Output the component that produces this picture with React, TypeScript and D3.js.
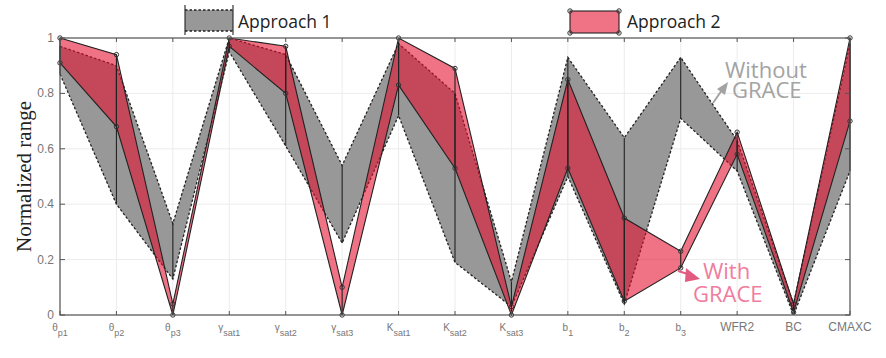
import React from "react";
import * as d3 from "d3";

const labelMain = ["θ", "θ", "θ", "γ", "γ", "γ", "K", "K", "K", "b", "b", "b", "WFR2", "BC", "CMAXC"];
const labelSub = ["p1", "p2", "p3", "sat1", "sat2", "sat3", "sat1", "sat2", "sat3", "1", "2", "3", "", "", ""];
const categories = labelMain.map((m, i) => m + labelSub[i]);

const approach1Min = [0.87, 0.40, 0.13, 0.95, 0.61, 0.26, 0.72, 0.19, 0.03, 0.50, 0.04, 0.71, 0.52, 0.00, 0.52];
const approach1Max = [0.97, 0.90, 0.33, 1.00, 0.94, 0.54, 0.98, 0.80, 0.12, 0.93, 0.64, 0.93, 0.63, 0.04, 0.98];
const approach2Min = [0.91, 0.68, 0.00, 0.97, 0.80, 0.00, 0.83, 0.53, 0.00, 0.53, 0.05, 0.17, 0.58, 0.01, 0.70];
const approach2Max = [1.00, 0.94, 0.04, 1.00, 0.97, 0.10, 1.00, 0.89, 0.03, 0.85, 0.35, 0.23, 0.66, 0.04, 1.00];

const yTicks = [0, 0.2, 0.4, 0.6, 0.8, 1];
const yTickLabels = ["0", "0.2", "0.4", "0.6", "0.8", "1"];
const legendLabels = ["Approach 1", "Approach 2"];

const W = 886, H = 358;
const L = 60, R = 850, T = 38, B = 315;

export default function App() {
  const x = d3.scalePoint<string>().domain(categories).range([L, R]);
  const y = d3.scaleLinear().domain([0, 1]).range([B, T]);

  const idx = categories.map((_, i) => i);
  const area = (lo: number[], hi: number[]) =>
    d3.area<number>().x((i) => x(categories[i])!).y0((i) => y(lo[i])).y1((i) => y(hi[i]))(idx) || "";
  const line = (v: number[]) =>
    d3.line<number>().x((i) => x(categories[i])!).y((i) => y(v[i]))(idx) || "";

  const grayFill = "#989898";
  const redFill = "rgba(230,12,45,0.58)";

  return (
    <svg width={W} height={H} style={{ position: "absolute", left: 0, top: 0, background: "#fff" }}>
      {/* grid */}
      {categories.map((c) => (
        <line key={"gv" + c} x1={x(c)} x2={x(c)} y1={T} y2={B} stroke="#ececec" strokeWidth={1} />
      ))}
      {yTicks.map((t) => (
        <line key={"gh" + t} x1={L} x2={R} y1={y(t)} y2={y(t)} stroke="#ececec" strokeWidth={1} />
      ))}

      {/* Approach 1 band */}
      <path d={area(approach1Min, approach1Max)} fill={grayFill} stroke="none" />
      <path d={line(approach1Max)} fill="none" stroke="#222" strokeWidth={1.3} strokeDasharray="2.5,2" />
      <path d={line(approach1Min)} fill="none" stroke="#222" strokeWidth={1.3} strokeDasharray="2.5,2" />

      {/* Approach 2 band */}
      <path d={area(approach2Min, approach2Max)} fill={redFill} stroke="none" />
      <path d={line(approach2Max)} fill="none" stroke="#222" strokeWidth={1.1} />
      <path d={line(approach2Min)} fill="none" stroke="#222" strokeWidth={1.1} />

      {/* vertical range lines */}
      {categories.map((c, i) => (
        <g key={"vr" + c}>
          <line x1={x(c)} x2={x(c)} y1={y(approach1Min[i])} y2={y(approach1Max[i])} stroke="#222" strokeWidth={1.1} />
          <line x1={x(c)} x2={x(c)} y1={y(approach2Min[i])} y2={y(approach2Max[i])} stroke="#222" strokeWidth={1.1} />
        </g>
      ))}
      {categories.map((c, i) => (
        <g key={"mk" + c}>
          <circle cx={x(c)} cy={y(approach2Max[i])} r={2.2} fill="none" stroke="#333" strokeWidth={1} />
          <circle cx={x(c)} cy={y(approach2Min[i])} r={2.2} fill="none" stroke="#333" strokeWidth={1} />
        </g>
      ))}

      {/* frame */}
      <rect x={L} y={T} width={R - L} height={B - T} fill="none" stroke="#555" strokeWidth={1.2} />
      {categories.map((c) => (
        <g key={"xt" + c}>
          <line x1={x(c)} x2={x(c)} y1={B} y2={B - 4} stroke="#555" />
          <line x1={x(c)} x2={x(c)} y1={T} y2={T + 4} stroke="#555" />
        </g>
      ))}
      {yTicks.map((t, i) => (
        <g key={"yt" + t}>
          <line x1={L} x2={L + 5} y1={y(t)} y2={y(t)} stroke="#555" />
          <line x1={R} x2={R - 5} y1={y(t)} y2={y(t)} stroke="#555" />
          <text x={L - 6} y={y(t) + 4} textAnchor="end" fontFamily="Liberation Sans, Arial" fontSize={12} fill="#777">
            {yTickLabels[i]}
          </text>
        </g>
      ))}

      {/* x labels */}
      {categories.map((c, i) => (
        <text key={"xl" + c} x={x(c)} y={331} textAnchor="middle" fontFamily="Liberation Sans, Arial" fontSize={labelSub[i] ? 10 : 12} fill="#777">
          <tspan>{labelMain[i]}</tspan>
          {labelSub[i] ? <tspan dy={5} fontSize={9}>{labelSub[i]}</tspan> : null}
        </text>
      ))}

      {/* y axis title */}
      <text transform={`translate(31,${(T + B) / 2}) rotate(-90)`} textAnchor="middle" fontFamily="Liberation Serif, Times New Roman" fontSize={21} fill="#222">
        Normalized range
      </text>

      {/* legend */}
      <rect x={185} y={10} width={48} height={21} fill={grayFill} />
      <line x1={185} x2={233} y1={10} y2={10} stroke="#222" strokeWidth={1.3} strokeDasharray="2.5,2" />
      <line x1={185} x2={233} y1={31} y2={31} stroke="#222" strokeWidth={1.3} strokeDasharray="2.5,2" />
      <line x1={185} x2={185} y1={5} y2={35} stroke="#222" strokeWidth={1.1} />
      <line x1={233} x2={233} y1={5} y2={35} stroke="#222" strokeWidth={1.1} />
      <text x={238} y={28} fontFamily="Open Sans" fontSize={17.5} fill="#222">{legendLabels[0]}</text>

      <rect x={570} y={11} width={49} height={22} fill={redFill} stroke="#222" strokeWidth={1.1} />
      {[[570, 11], [619, 11], [570, 33], [619, 33]].map(([cx, cy], k) => (
        <circle key={"lc" + k} cx={cx} cy={cy} r={2.2} fill="none" stroke="#333" />
      ))}
      <text x={627} y={28} fontFamily="Open Sans" fontSize={17.5} fill="#222">{legendLabels[1]}</text>

      {/* annotations */}
      <text x={725} y={78} fontFamily="Open Sans" fontSize={22} fill="#a3a3a3">Without</text>
      <text x={732} y={98} fontFamily="Open Sans" fontSize={22} fill="#a3a3a3">GRACE</text>
      <line x1={713} y1={103} x2={722} y2={90} stroke="#a3a3a3" strokeWidth={2} />
      <path d="M728,82 L717,89 L725,95 Z" fill="#a3a3a3" />

      <text x={703} y={279} fontFamily="Open Sans" fontSize={22} fill="#f07c9e">With</text>
      <text x={693} y={302} fontFamily="Open Sans" fontSize={22} fill="#f07c9e">GRACE</text>
      <line x1={678} y1={271} x2={688} y2={274} stroke="#e25a80" strokeWidth={2} />
      <path d="M700,279 L686,268 L685,282 Z" fill="#e25a80" />
    </svg>
  );
}
